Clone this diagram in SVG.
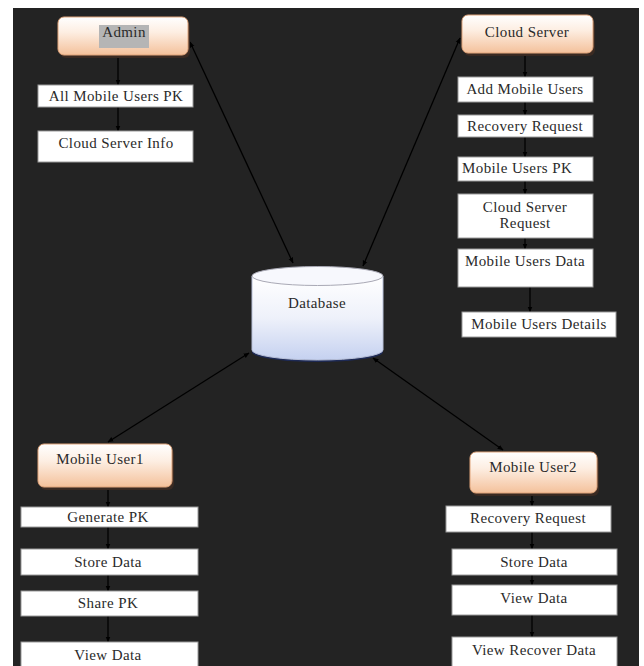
<svg xmlns="http://www.w3.org/2000/svg" width="644" height="666" viewBox="0 0 644 666">
<defs>
<linearGradient id="og" x1="0" y1="0" x2="0" y2="1">
<stop offset="0" stop-color="#ffffff"/>
<stop offset="0.4" stop-color="#fdeee2"/>
<stop offset="1" stop-color="#f4c19b"/>
</linearGradient>
<linearGradient id="dbg" x1="0" y1="0" x2="0" y2="1">
<stop offset="0" stop-color="#ffffff"/>
<stop offset="0.5" stop-color="#eef1fa"/>
<stop offset="1" stop-color="#c5d1f0"/>
</linearGradient>
<marker id="ah" viewBox="0 0 10 10" refX="9" refY="5" markerWidth="6" markerHeight="6" markerUnits="userSpaceOnUse" orient="auto-start-reverse">
<path d="M0,1 L10,5 L0,9 Z" fill="#000"/>
</marker>
<style>
.bg{fill:#232323}
.box{fill:#ffffff;stroke:#9a9a9a;stroke-width:1}
.onode{fill:url(#og);stroke:#e0a47a;stroke-width:1}
.sh{fill:#3a2a22}
text{font-family:'Liberation Serif','DejaVu Serif','Times New Roman',serif;font-size:15px;letter-spacing:0.4px;fill:#2a2a2a;text-anchor:middle}
.tl{text-anchor:start}
.ln{stroke:#000;stroke-width:1.3;fill:none}
</style>
</defs>
<rect x="0" y="0" width="644" height="666" fill="#ffffff"/>
<rect class="bg" x="13" y="8" width="626" height="658"/>

<g id="connectors">
<line class="ln" x1="190" y1="42" x2="293" y2="263" marker-start="url(#ah)" marker-end="url(#ah)"/>
<line class="ln" x1="460" y1="38" x2="363" y2="266" marker-start="url(#ah)" marker-end="url(#ah)"/>
<line class="ln" x1="249" y1="353" x2="108" y2="442" marker-start="url(#ah)" marker-end="url(#ah)"/>
<line class="ln" x1="373" y1="358" x2="503" y2="450" marker-start="url(#ah)" marker-end="url(#ah)"/>
<line class="ln" x1="118" y1="55" x2="118" y2="85" marker-end="url(#ah)"/>
<line class="ln" x1="118" y1="107" x2="118" y2="131" marker-end="url(#ah)"/>
<line class="ln" x1="525" y1="53" x2="525" y2="77" marker-end="url(#ah)"/>
<line class="ln" x1="525" y1="102" x2="525" y2="115" marker-end="url(#ah)"/>
<line class="ln" x1="525" y1="137" x2="525" y2="157" marker-end="url(#ah)"/>
<line class="ln" x1="525" y1="181" x2="525" y2="194" marker-end="url(#ah)"/>
<line class="ln" x1="525" y1="238" x2="525" y2="249" marker-end="url(#ah)"/>
<line class="ln" x1="530" y1="287" x2="530" y2="312" marker-end="url(#ah)"/>
<line class="ln" x1="108" y1="487" x2="108" y2="507" marker-end="url(#ah)"/>
<line class="ln" x1="108" y1="527" x2="108" y2="549" marker-end="url(#ah)"/>
<line class="ln" x1="108" y1="575" x2="108" y2="591" marker-end="url(#ah)"/>
<line class="ln" x1="108" y1="616" x2="108" y2="642" marker-end="url(#ah)"/>
<line class="ln" x1="532" y1="493" x2="532" y2="506" marker-end="url(#ah)"/>
<line class="ln" x1="532" y1="532" x2="532" y2="549" marker-end="url(#ah)"/>
<line class="ln" x1="532" y1="575" x2="532" y2="585" marker-end="url(#ah)"/>
<line class="ln" x1="532" y1="615" x2="532" y2="637" marker-end="url(#ah)"/>
</g>

<g id="admin">
<rect class="sh" x="60" y="21" width="130" height="37" rx="6"/>
<rect class="onode" x="58" y="17" width="130" height="38" rx="6"/>
<rect x="99" y="25" width="50" height="23" fill="#b5b5b5"/>
<text x="124" y="37">Admin</text>
</g>
<g id="all-mobile-users-pk">
<rect class="box" x="38" y="85" width="155" height="22"/>
<text x="116" y="101">All Mobile Users PK</text>
</g>
<g id="cloud-server-info">
<rect class="box" x="38" y="131" width="155" height="31"/>
<text x="116" y="148">Cloud Server Info</text>
</g>

<g id="cloud-server">
<rect class="sh" x="464" y="19" width="131" height="37" rx="6"/>
<rect class="onode" x="462" y="15" width="131" height="38" rx="6"/>
<text x="527" y="37">Cloud Server</text>
</g>
<g id="add-mobile-users">
<rect class="box" x="458" y="77" width="135" height="25"/>
<text x="525" y="94">Add Mobile Users</text>
</g>
<g id="recovery-request-cs">
<rect class="box" x="458" y="115" width="135" height="22"/>
<text x="525" y="131">Recovery Request</text>
</g>
<g id="mobile-users-pk">
<rect class="box" x="458" y="157" width="135" height="24"/>
<text class="tl" x="462" y="173">Mobile Users PK</text>
</g>
<g id="cloud-server-request">
<rect class="box" x="458" y="194" width="135" height="44"/>
<text x="525" y="212">Cloud Server</text>
<text x="525" y="228">Request</text>
</g>
<g id="mobile-users-data">
<rect class="box" x="458" y="249" width="135" height="38"/>
<text x="525" y="266">Mobile Users Data</text>
</g>
<g id="mobile-users-details">
<rect class="box" x="462" y="312" width="154" height="25"/>
<text x="539" y="329">Mobile Users Details</text>
</g>

<g id="database">
<path d="M252,276 L252,352 A65.5,10 0 0 0 383,352 L383,276 Z" fill="#1e2a55"/>
<path d="M252,276 L252,350 A65.5,10 0 0 0 383,350 L383,276 Z" fill="url(#dbg)" stroke="#b8c0d8" stroke-width="1"/>
<ellipse cx="317.5" cy="276" rx="65.5" ry="9.5" fill="#f7f8fd" stroke="#a9a9b5" stroke-width="1"/>
<text x="317" y="308">Database</text>
</g>

<g id="mobile-user1">
<rect class="sh" x="40" y="448" width="134" height="42" rx="6"/>
<rect class="onode" x="38" y="444" width="134" height="43" rx="6"/>
<text x="100" y="464">Mobile User1</text>
</g>
<g id="generate-pk">
<rect class="box" x="21" y="507" width="177" height="20"/>
<text x="108" y="522">Generate PK</text>
</g>
<g id="store-data-1">
<rect class="box" x="21" y="549" width="177" height="26"/>
<text x="108" y="567">Store Data</text>
</g>
<g id="share-pk">
<rect class="box" x="21" y="591" width="177" height="25"/>
<text x="108" y="608">Share PK</text>
</g>
<g id="view-data-1">
<rect class="box" x="21" y="642" width="177" height="30"/>
<text x="108" y="660">View Data</text>
</g>

<g id="mobile-user2">
<rect class="sh" x="472" y="456" width="127" height="40" rx="6"/>
<rect class="onode" x="470" y="452" width="127" height="41" rx="6"/>
<text x="533" y="472">Mobile User2</text>
</g>
<g id="recovery-request-mu2">
<rect class="box" x="446" y="506" width="165" height="26"/>
<text x="528" y="523">Recovery Request</text>
</g>
<g id="store-data-2">
<rect class="box" x="452" y="549" width="165" height="26"/>
<text x="534" y="567">Store Data</text>
</g>
<g id="view-data-2">
<rect class="box" x="452" y="585" width="165" height="30"/>
<text x="534" y="603">View Data</text>
</g>
<g id="view-recover-data">
<rect class="box" x="452" y="637" width="165" height="35"/>
<text x="534" y="655">View Recover Data</text>
</g>
</svg>
